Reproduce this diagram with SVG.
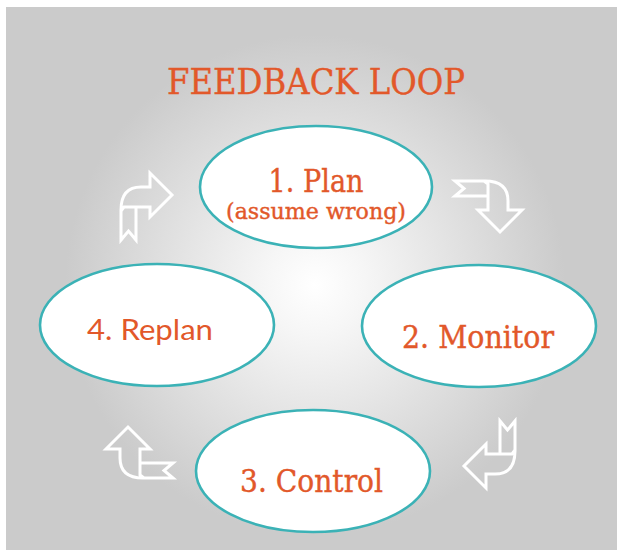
<svg xmlns="http://www.w3.org/2000/svg" width="623" height="550" viewBox="0 0 623 550">
  <defs>
    <radialGradient id="bg" cx="315" cy="285" r="250" gradientUnits="userSpaceOnUse">
      <stop offset="0" stop-color="#ffffff"/>
      <stop offset="0.2" stop-color="#f6f6f6"/>
      <stop offset="1" stop-color="#cbcbcb"/>
    </radialGradient>
    <path id="arr" d="M-25,33 L-25,3 Q-25,-20 -5,-20 L4,-20 L4,-34 L26,-12 L4,10 L4,0 L-10,0 L-10,33 L-17.5,24 Z M-25,4 L-22,0 L-10,0"/>
  </defs>
  <style>
    .node ellipse { fill: #ffffff; stroke: #3bb2b6; stroke-width: 2.6; }
    .slab { font-family: "DejaVu Serif", "Liberation Serif", serif; fill: #e2582a; stroke: #e2582a; stroke-width: 0.4; text-anchor: middle; }
    .sans { font-family: "Lato", "Open Sans", "Liberation Sans", sans-serif; fill: #e2582a; text-anchor: middle; }
    .arrow use { fill: none; stroke: #ffffff; stroke-width: 3; stroke-linejoin: miter; }
  </style>
  <rect x="6" y="7" width="611" height="543" fill="url(#bg)"/>
  <text class="slab" x="316" y="94" font-size="35" textLength="298" lengthAdjust="spacingAndGlyphs">FEEDBACK LOOP</text>

  <g id="connectors" class="arrow">
    <use href="#arr" transform="translate(146,207)"/>
    <use href="#arr" transform="translate(488,206) rotate(90)"/>
    <use href="#arr" transform="translate(490,454) rotate(180)"/>
    <use href="#arr" transform="translate(140,453) rotate(-90)"/>
  </g>

  <g id="node-plan" class="node">
    <ellipse cx="316" cy="187" rx="116" ry="61"/>
    <text class="slab" x="316" y="192" font-size="32" textLength="95" lengthAdjust="spacingAndGlyphs">1. Plan</text>
    <text class="slab" x="316" y="219" font-size="22" textLength="180" lengthAdjust="spacingAndGlyphs">(assume wrong)</text>
  </g>
  <g id="node-monitor" class="node">
    <ellipse cx="479" cy="326" rx="117" ry="61"/>
    <text class="slab" x="478" y="348" font-size="31" textLength="152" lengthAdjust="spacingAndGlyphs">2. Monitor</text>
  </g>
  <g id="node-control" class="node">
    <ellipse cx="313" cy="471" rx="117" ry="61"/>
    <text class="slab" x="311.5" y="492" font-size="32" textLength="143" lengthAdjust="spacingAndGlyphs">3. Control</text>
  </g>
  <g id="node-replan" class="node">
    <ellipse cx="157" cy="325" rx="117" ry="61"/>
    <text class="sans" x="150" y="340" font-size="28" textLength="126" lengthAdjust="spacingAndGlyphs">4. Replan</text>
  </g>
</svg>
